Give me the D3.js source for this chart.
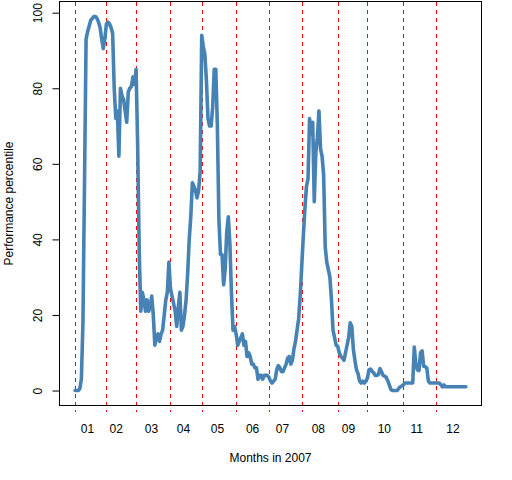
<!DOCTYPE html>
<html><head><meta charset="utf-8">
<script src="https://cdn.jsdelivr.net/npm/d3@7"></script>
<style>
body{margin:0;background:#fff}
text{font-family:"Liberation Sans",Arial,sans-serif;font-size:12px;fill:#000}
</style>
</head><body>
<svg id="chart" width="512" height="480"></svg>
<script>
// ---- data ----
const monthLabels = ["01","02","03","04","05","06","07","08","09","10","11","12"];
// trading-day index of the first trading day of each month in 2007
const monthStarts = [1,21,40,62,82,104,125,146,169,188,211,232];
// trading-day index where each month label sits
const labelPos = [8.6,27,49.5,70,91.8,114.2,133.3,156.3,175.6,198.5,219.3,242.4];
const yTicks = [0,20,40,60,80,100];
const xTitle = "Months in 2007";
const yTitle = "Performance percentile";
// daily performance percentile, trading days 1..251
const jan = [0,0,0,0.5,3,18,55,93,95,96.5,98,98.5,99,99,98.5,97.5,96,93,90.5,93];
const feb = [97,97.5,97,96,94.5,80,72,74,62,80,78,77,74,71,79,80,80.5,83,81];
const mar = [85,65,37,21,26,24,21,24,21,22,25,20,12,14,15,13,15,16,20,24,26,34];
const apr = [27,25,23,21,17,22,26,16,17,20,24,31,40,46,55,54,53,51,53,58];
const may = [94,91,89,82,72,70,70,75,85,85,70,45,36,36,28,32,42,46,39,26,16,17];
const jun = [15,12,13,14,15,12,13,9,10,9,7,7,6,6,3,4,4,3,4,4,4];
const jul = [3.5,2.5,2,2.5,3,5.5,6.6,6,5,5,6,7,8.6,9,7,8,11,13,16,19,25];
const aug = [33,41,48,54,56,72,68,71,50,63,67,74,64,62,57,38,34,32,30,24,16,14,12];
const sep = [11.7,10,9,8.6,8,10,12,14,17.9,17,11,8,5.5,4.5,2.5,2,2.5,2,2.5];
const oct = [3.3,5.5,5.7,5.1,4.7,4,4,4.2,5.8,5,4,3.8,3.5,2.6,1.5,0.3,0,0,0,0,0.5,1,1.2];
const nov = [1.5,2,2,2,2,2,2,11.5,7,5.5,5.3,10,10.5,6.4,6.3,6,2.5,2,2,2,2];
const dec = [2,2,2,1.5,1,1.5,1,1,1,1,1,1,1,1,1,1,1,1,1,1];
const percentile = [].concat(jan,feb,mar,apr,may,jun,jul,aug,sep,oct,nov,dec);

// ---- layout ----
const L = 59.5, R = 481.5, T = 1.5, B = 405.5;
const svg = d3.select("#chart");
const x = d3.scaleLinear().domain([-9, 261]).range([L, R]);
const y = d3.scaleLinear().domain([-3.96, 102.96]).range([B, T]);

// month boundary lines
svg.append("g").selectAll("line").data(monthStarts).join("line")
  .attr("x1", d => Math.round(x(d)) + 0.5).attr("x2", d => Math.round(x(d)) + 0.5)
  .attr("y1", T).attr("y2", B + 6)
  .attr("stroke", "#ff0000").attr("stroke-width", 1)
  .attr("stroke-dasharray", "4,4").attr("shape-rendering", "crispEdges");

// series line
const line = d3.line().x((d, i) => x(i + 1)).y(d => y(d));
svg.append("path").datum(percentile)
  .attr("d", line).attr("fill", "none")
  .attr("stroke", "#4682B4").attr("stroke-width", 3.6)
  .attr("stroke-linejoin", "round").attr("stroke-linecap", "round");

// box
svg.append("rect").attr("x", L).attr("y", T).attr("width", R - L).attr("height", B - T)
  .attr("fill", "none").attr("stroke", "#000").attr("stroke-width", 1);

// y axis
const ya = svg.append("g").attr("transform", `translate(${L},0)`)
  .call(d3.axisLeft(y).tickValues(yTicks).tickSize(7).tickFormat(d3.format("d")));
ya.select(".domain").remove();
ya.selectAll(".tick line").attr("stroke", "#000");
ya.selectAll(".tick text")
  .attr("transform", "rotate(-90)").attr("x", 0).attr("y", -17.8).attr("dy", 0)
  .attr("text-anchor", "middle").style("font-size", "12px").style("font-family", "Liberation Sans, Arial, sans-serif");

// x labels
const xa = svg.append("g").attr("transform", `translate(0,${B})`)
  .call(d3.axisBottom(x).tickValues(labelPos).tickSize(0).tickFormat((d, i) => monthLabels[i]));
xa.select(".domain").remove();
xa.selectAll(".tick text").attr("y", 27.2).attr("dy", 0)
  .style("font-size", "12px").style("font-family", "Liberation Sans, Arial, sans-serif");

// titles
svg.append("text").attr("x", (L + R) / 2).attr("y", 462.3)
  .attr("text-anchor", "middle").text(xTitle);
svg.append("text").attr("transform", `translate(13.3,${(T + B) / 2}) rotate(-90)`)
  .attr("text-anchor", "middle").text(yTitle);
</script>
</body></html>
